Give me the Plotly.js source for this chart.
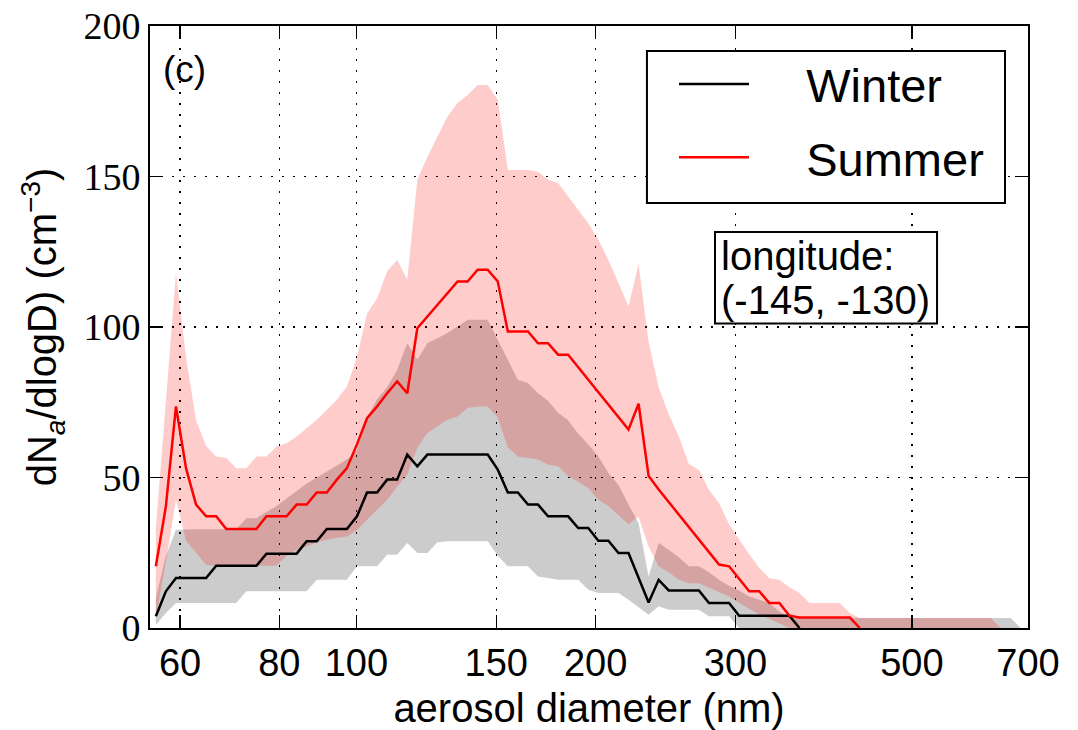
<!DOCTYPE html>
<html>
<head>
<meta charset="utf-8">
<script src="https://cdn.plot.ly/plotly-3.0.1.min.js"></script>
<style>
  html, body { margin: 0; padding: 0; background: #fff; }
  #chart { width: 1078px; height: 730px; }
</style>
</head>
<body>
<div id="chart"></div>
<script>
// aerosol diameter bins (nm)
const diameter = [
  55.94, 57.59, 59.30, 61.05, 62.85, 64.71, 66.63, 68.60, 70.62, 72.71,
  74.86, 77.07, 79.35, 81.70, 84.11, 86.60, 89.16, 91.80, 94.51, 97.30,
  100.18, 103.14, 106.19, 109.33, 112.56, 115.89, 119.32, 122.85, 126.48, 130.22,
  134.07, 138.03, 142.11, 146.31, 150.64, 155.09, 159.68, 164.40, 169.26, 174.26,
  179.41, 184.72, 190.18, 195.80, 201.59, 207.55, 213.69, 220.01, 226.51, 233.21,
  240.10, 247.20, 254.51, 262.04, 269.79, 277.76, 285.98, 294.43, 303.14, 312.10,
  321.33, 330.83, 340.61, 350.68, 361.05, 371.73, 382.72, 394.04, 405.69, 417.68,
  430.03, 442.75, 455.84, 469.32, 483.19, 497.48, 512.19, 527.34, 542.93, 558.98,
  575.51, 592.53, 610.05, 628.09, 646.66, 665.78, 685.46
];

// Winter: mean and band (dN/dlogD, cm^-3)
const winterMean = [
  3.9, 12.2, 16.6, 16.6, 16.6, 16.6, 20.7, 20.7, 20.7, 20.7,
  20.7, 24.7, 24.7, 24.7, 24.7, 28.8, 28.8, 32.9, 32.9, 32.9,
  37.1, 45.0, 45.0, 49.3, 49.3, 57.6, 53.7, 57.6, 57.6, 57.6,
  57.6, 57.6, 57.6, 57.6, 52.6, 45.0, 45.0, 41.0, 41.0, 37.1,
  37.1, 37.1, 33.2, 33.2, 29.0, 29.0, 24.9, 24.9, 16.7, 8.5,
  16.0, 12.5, 12.5, 12.5, 12.5, 8.3, 8.3, 8.3, 4.1, 4.1,
  4.1, 4.1, 4.1, 4.1, 0
];
const winterHigh = [
  10, 24, 32.6, 32.8, 32.8, 32.8, 32.8, 32.8, 32.8, 36.5,
  36.5, 38.5, 40.5, 43, 45.5, 48, 50, 52, 54, 56,
  59, 70, 76, 80, 85.8, 94.6, 89.1, 94.6, 96.3, 98.0,
  100.2, 102.4, 102.4, 102.4, 95.7, 89.1, 82.5, 81.4, 78.0, 75.5,
  71.5, 69, 64.5, 61, 57, 51.5, 47.5, 41, 34.9, 17.1,
  28.2, 26, 23.5, 20.5, 20.5, 18.5, 16.0, 14, 12.5, 10.5,
  9.5, 8.3, 5.5, 3.5, 3.3, 3.3, 3.3, 3.3, 3.3, 3.3,
  3.3, 3.3, 3.3, 3.3, 3.3, 3.3, 3.3, 3.3, 3.3, 3.3,
  3.3, 3.3, 3.3, 3.3, 3.3, 3.3, 0
];
const winterLow = [
  1, 5, 8.3, 8.3, 8.3, 8.3, 8.3, 8.3, 8.3, 12.2,
  12.2, 12.2, 12.2, 12.2, 12.2, 12.2, 16, 16, 16, 16,
  20.5, 20.5, 20.5, 24.3, 24.3, 28.2, 24.9, 24.9, 28.5, 28.8,
  28.8, 28.8, 28.8, 28.8, 24, 20.5, 20.5, 20.5, 17.1, 16.5,
  16, 16, 16, 12.7, 11.6, 11.6, 11.6, 9.4, 7, 4.4,
  7.2, 6.1, 6.1, 6.1, 6.1, 3.9, 3.9, 3.9, 0, 0,
  0, 0, 0, 0, 0, 0, 0, 0, 0, 0,
  0, 0, 0, 0, 0, 0, 0, 0, 0, 0,
  0, 0, 0, 0, 0, 0, 0
];

// Summer: mean and band
const summerMean = [
  20.5, 40.4, 73.6, 53.1, 41.0, 37.1, 37.1, 32.9, 32.9, 32.9,
  32.9, 37.1, 37.1, 37.1, 41.0, 41.0, 45.0, 45.0, 49.3, 53.1,
  61.0, 69.7, 73.6, 78.0, 81.9, 78.0, 99.6, 103.5, 107.4, 111.3,
  115.1, 115.1, 119.0, 119.0, 115.1, 98.5, 98.5, 98.5, 94.6, 94.6,
  90.8, 90.8, 86.6, 82.5, 78.3, 74.1, 70.0, 65.9, 74.5, 50.5,
  46.0, 41.9, 37.7, 33.6, 29.4, 25.3, 21.1, 20.5, 16.3, 12.2,
  12.2, 8.3, 8.3, 4.1, 3.5, 3.5, 3.5, 3.5, 3.5, 3.5,
  0
];
const summerHigh = [
  33, 75, 118, 90, 69, 60.5, 57.0, 56.5, 53.1, 53.1,
  57.0, 57.0, 60.3, 61.4, 63.6, 66.4, 69.2, 72.5, 75.8, 80.2,
  90.0, 104.5, 109.5, 118.5, 122.3, 115.7, 148.9, 156.6, 163.3, 169.9,
  174.4, 177.1, 180.4, 180.4, 175.5, 152.2, 152.2, 152.2, 151.6, 148.9,
  147.8, 143.3, 138.9, 134.5, 129.0, 122.3, 114.6, 106.8, 121.0, 95.0,
  80.0, 71.0, 63.6, 54.5, 52.6, 45.9, 41.5, 34.5, 29.5, 24.5,
  20.0, 16.5, 16.0, 13.5, 11.6, 8.3, 8.3, 8.3, 8.3, 5.0,
  3.3, 3.3, 3.3, 3.3, 3.3, 3.3, 3.3, 3.3, 3.3, 3.3,
  3.3, 3.3, 3.3, 3.3, 0
];
const summerLow = [
  3, 22, 42.6, 29, 25, 21, 20.7, 20.7, 20.7, 20.7,
  20.7, 20.7, 20.7, 24, 26, 27.1, 28.5, 29.3, 30, 30.4,
  32.5, 36, 39.3, 42.5, 47, 51, 60, 64.8, 67, 69.2,
  70.3, 73.1, 73.6, 73.6, 70, 60, 57.0, 56.5, 56.0, 54.2,
  53.7, 50.5, 48.5, 46.5, 42.6, 40.5, 37.5, 34.5, 37, 27,
  20.5, 18.5, 16, 14.9, 14.9, 13.5, 12, 10.5, 8.3, 6.5,
  4.5, 3, 1.5, 0, 0, 0, 0, 0, 0, 0,
  0, 0, 0, 0, 0, 0, 0, 0, 0, 0,
  0, 0, 0, 0, 0
];

const xTicks = [60, 80, 100, 150, 200, 300, 500, 700];
const yTicks = [0, 50, 100, 150, 200];
const seriesNames = ['Winter', 'Summer'];

const sans = 'Liberation Sans, Arial, Helvetica, sans-serif';
const serif = 'Liberation Serif, Times New Roman, serif';
const legendPad = '\u00a0\u00a0\u00a0\u00a0';

const xs = n => diameter.slice(0, n);

const traces = [
  { x: xs(winterLow.length), y: winterLow, type: 'scatter', mode: 'lines',
    line: { width: 0, color: 'rgba(0,0,0,0)' }, showlegend: false, hoverinfo: 'skip' },
  { x: xs(winterHigh.length), y: winterHigh, type: 'scatter', mode: 'lines',
    line: { width: 0, color: 'rgba(0,0,0,0)' }, fill: 'tonexty', fillcolor: 'rgba(0,0,0,0.2)',
    showlegend: false, hoverinfo: 'skip' },
  { x: xs(summerLow.length), y: summerLow, type: 'scatter', mode: 'lines',
    line: { width: 0, color: 'rgba(0,0,0,0)' }, showlegend: false, hoverinfo: 'skip' },
  { x: xs(summerHigh.length), y: summerHigh, type: 'scatter', mode: 'lines',
    line: { width: 0, color: 'rgba(0,0,0,0)' }, fill: 'tonexty', fillcolor: 'rgba(255,0,0,0.2)',
    showlegend: false, hoverinfo: 'skip' },
  { x: xs(winterMean.length), y: winterMean, type: 'scatter', mode: 'lines', name: legendPad + seriesNames[0],
    legendgroup: 'w', line: { color: '#000000', width: 2.5 } },
  { x: xs(summerMean.length), y: summerMean, type: 'scatter', mode: 'lines', name: legendPad + seriesNames[1],
    legendgroup: 's', line: { color: '#ff0000', width: 2.5 } }
];

const commonAxis = {
  showline: true, linecolor: '#000', linewidth: 2, mirror: 'ticks',
  ticks: 'inside', ticklen: 13, tickwidth: 1.5, tickcolor: '#000',
  showgrid: true, gridcolor: '#000', gridwidth: 1.5, griddash: '2px,9px',
  zeroline: false
};

const layout = {
  width: 1078, height: 730,
  margin: { l: 150, r: 50, t: 26, b: 102 },
  paper_bgcolor: '#fff', plot_bgcolor: '#fff',
  hovermode: false,
  xaxis: Object.assign({}, commonAxis, {
    type: 'log',
    range: [Math.log10(55.0), Math.log10(700)],
    tickmode: 'array', tickvals: xTicks, ticktext: xTicks.map(String),
    tickfont: { family: sans, size: 38, color: '#000' },
    title: { text: 'aerosol diameter (nm)', font: { family: sans, size: 40, color: '#000' }, standoff: 14 }
  }),
  yaxis: Object.assign({}, commonAxis, {
    range: [0, 200],
    tickmode: 'array', tickvals: yTicks, ticktext: yTicks.map(String),
    tickfont: { family: serif, size: 38, color: '#000' },
    title: { text: 'dN<sub><i>a</i></sub>/dlogD) (cm<sup>\u22123</sup>)', font: { family: sans, size: 40, color: '#000' }, standoff: 14 }
  }),
  legend: {
    x: 0.5968, y: 0.965, xanchor: 'left', yanchor: 'top',
    bgcolor: 'rgba(0,0,0,0)', borderwidth: 0,
    font: { family: sans, size: 47, color: '#000' },
    itemwidth: 70, tracegroupgap: 9, traceorder: 'grouped'
  },
  shapes: [
    // legend frame
    { type: 'rect', xref: 'paper', yref: 'paper', x0: 0.566, x1: 0.9738, y0: 0.7061, y1: 0.9585,
      line: { color: '#000', width: 2 }, fillcolor: '#ffffff', layer: 'above' },
    // annotation frame
    { type: 'rect', xref: 'paper', yref: 'paper', x0: 0.6435, x1: 0.8964, y0: 0.506, y1: 0.658,
      line: { color: '#000', width: 2 }, fillcolor: '#ffffff', layer: 'above' }
  ],
  annotations: [
    { text: '(c)', xref: 'paper', yref: 'paper', x: 0.013, y: 0.965, xanchor: 'left', yanchor: 'top',
      showarrow: false, font: { family: sans, size: 37, color: '#000' } },
    { text: 'longitude:', xref: 'paper', yref: 'paper', x: 0.6475, y: 0.657, xanchor: 'left', yanchor: 'top',
      showarrow: false, font: { family: sans, size: 40, color: '#000' } },
    { text: '(-145, -130)', xref: 'paper', yref: 'paper', x: 0.6475, y: 0.585, xanchor: 'left', yanchor: 'top',
      showarrow: false, font: { family: sans, size: 40, color: '#000' } }
  ]
};

Plotly.newPlot('chart', traces, layout, { displayModeBar: false, staticPlot: true });
</script>
</body>
</html>
